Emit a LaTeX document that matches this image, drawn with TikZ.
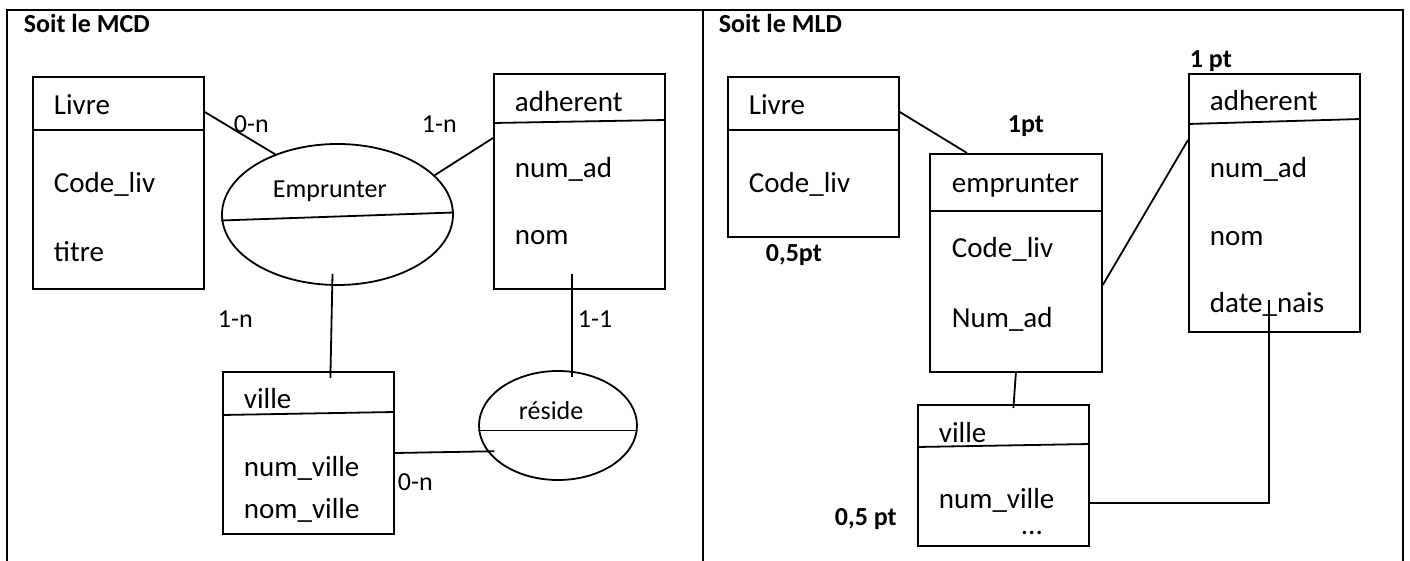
\documentclass[tikz,border=0pt]{standalone}
\usepackage{fontspec}
\setmainfont{Carlito}
\usetikzlibrary{shapes.geometric,positioning}

\begin{document}
\begin{tikzpicture}[
      x=0.5pt, y=-0.5pt,
      line width=0.9pt,
      box/.style={rectangle, draw, anchor=north west, inner sep=0pt, minimum width=#1},
      assoc/.style={ellipse, draw, inner sep=0pt},
      attr/.style={anchor=base west, inner sep=0pt, font=\fontsize{14.5}{17}\selectfont},
      card/.style={anchor=base west, inner sep=0pt, font=\fontsize{13}{16}\selectfont},
      pts/.style={anchor=base west, inner sep=0pt, font=\fontsize{13}{16}\selectfont\bfseries}
    ]
      \useasboundingbox (0,0) rectangle (1410,561);
      % Frame
      \draw[line width=1.2pt] (7,561) -- (7,10) -- (1403,10) -- (1403,561);
      \draw[line width=1.2pt] (703,10) -- (703,561);
      \node[pts] (titreMCD) at (23,33) {Soit le MCD};
      \node[pts] (titreMLD) at (718,33) {Soit le MLD};

      % MCD : entites
      \node[box=85.5pt, minimum height=106pt] (livre) at (32,76) {};
      \draw ([yshift=-27pt]livre.north west) -- ([yshift=-27pt]livre.north east);
      \node[attr] (livreN) at (53,115) {Livre};
      \node[attr] (livreA) at (53,193) {Code\_liv};
      \node[attr] (livreB) at (53,262) {titre};

      \node[box=85.5pt, minimum height=107.5pt] (adh) at (493,73) {};
      \draw ([yshift=-25pt]adh.north west) -- ([yshift=-23.5pt]adh.north east);
      \node[attr] (adhN) at (514,112) {adherent};
      \node[attr] (adhA) at (514,178) {num\_ad};
      \node[attr] (adhB) at (514,245) {nom};

      \node[box=85.5pt, minimum height=81pt] (ville) at (222,371) {};
      \draw ([yshift=-22pt]ville.north west) -- ([yshift=-20.5pt]ville.north east);
      \node[attr] (villeN) at (243,409) {ville};
      \node[attr] (villeA) at (243,477) {num\_ville};
      \node[attr] (villeB) at (243,518) {nom\_ville};

      % MCD : associations
      \node[assoc, minimum width=115.5pt, minimum height=70.5pt] (emp) at (337.5,214.5) {};
      \draw ([yshift=-3pt]emp.west) -- ([yshift=1pt]emp.east);
      \node[card] (empN) at (272,198) {Emprunter};

      \node[assoc, minimum width=79pt, minimum height=54.5pt] (res) at (558,425.5) {};
      \draw ([yshift=-2.5pt]res.west) -- ([yshift=-2.5pt]res.east);
      \node[card] (resN) at (518,420) {réside};

      % MCD : liens
      \draw ([yshift=-18pt]livre.north east) -- (emp.136);
      \draw (emp.22) -- ([yshift=-32.5pt]adh.north west);
      \draw ([xshift=-2.5pt, yshift=6pt]emp.south) -- ([xshift=11pt, yshift=-3.5pt]ville.north);
      \draw ([xshift=-3.75pt, yshift=8pt]adh.south) -- ([xshift=-3.75pt, yshift=-3.5pt]adh.south |- res.north);
      \draw ([yshift=-41pt]ville.north east) -- ([xshift=3.5pt]res.200);
      \node[card] (c1) at (233,133) {0-n};
      \node[card] (c2) at (421,133) {1-n};
      \node[card] (c3) at (217,328) {1-n};
      \node[card] (c4) at (577,328) {1-1};
      \node[card] (c5) at (397,491) {0-n};

      % MLD : tables
      \node[box=85.5pt, minimum height=80pt] (livreM) at (727,76) {};
      \draw ([yshift=-27pt]livreM.north west) -- ([yshift=-27pt]livreM.north east);
      \node[attr] (livreMN) at (748,115) {Livre};
      \node[attr] (livreMA) at (748,193) {Code\_liv};

      \node[box=86pt, minimum height=109pt] (empM) at (929,153) {};
      \draw ([yshift=-29pt]empM.north west) -- ([yshift=-29pt]empM.north east);
      \node[attr] (empMN) at (951,193) {emprunter};
      \node[attr] (empMA) at (951,258) {Code\_liv};
      \node[attr] (empMB) at (951,328) {Num\_ad};

      \node[box=85.5pt, minimum height=129pt] (adhM) at (1188,73) {};
      \draw ([yshift=-25.5pt]adhM.north west) -- ([yshift=-23pt]adhM.north east);
      \node[attr] (adhMN) at (1209,111) {adherent};
      \node[attr] (adhMA) at (1209,178) {num\_ad};
      \node[attr] (adhMB) at (1209,246) {nom};
      \node[attr] (adhMC) at (1209,313) {date\_nais};

      \node[box=85.5pt, minimum height=70.5pt] (villeM) at (917,404) {};
      \draw ([yshift=-21.5pt]villeM.north west) -- ([yshift=-20pt]villeM.north east);
      \node[attr] (villeMN) at (938,443) {ville};
      \node[attr] (villeMA) at (938,509) {num\_ville};
      \node[attr] (villeMB) at (1020,535) {...};

      % MLD : liens
      \draw ([yshift=-18pt]livreM.north east) -- ([xshift=19pt]empM.north west);
      \draw ([yshift=-66pt]empM.north east) -- ([yshift=-33.5pt]adhM.north west);
      \draw (empM.south) -- ([xshift=5pt, yshift=-2pt]villeM.north);
      \draw ([yshift=-49.5pt]villeM.north east) -| ([xshift=-2.75pt, yshift=16.5pt]adhM.south);

      % Points
      \node[pts] (p1) at (765,262) {0,5pt};
      \node[pts] (p2) at (1007,133) {1pt};
      \node[pts] (p3) at (1189,68) {1 pt};
      \node[pts] (p4) at (834,525) {0,5 pt};
    \end{tikzpicture}
\end{document}
